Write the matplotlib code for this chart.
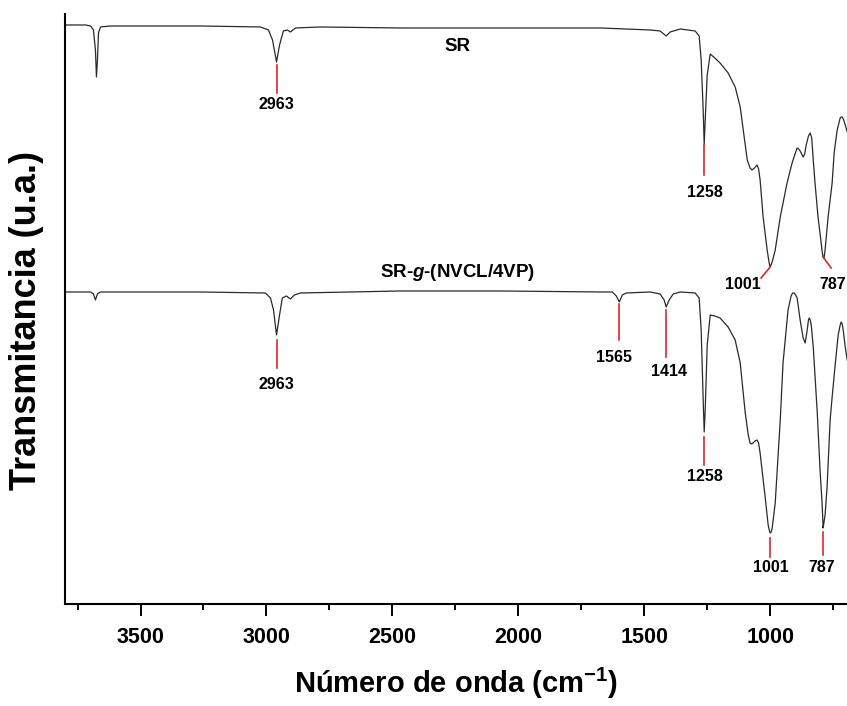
import numpy as np
import matplotlib
matplotlib.use('Agg')
import matplotlib.pyplot as plt
from matplotlib.ticker import MultipleLocator

plt.rcParams['font.family'] = ['Liberation Sans', 'DejaVu Sans']
plt.rcParams['font.weight'] = 'bold'
plt.rcParams['mathtext.fontset'] = 'custom'
plt.rcParams['mathtext.rm'] = 'Liberation Sans:bold'
plt.rcParams['mathtext.bf'] = 'Liberation Sans:bold'
plt.rcParams['mathtext.it'] = 'Liberation Sans:bold:italic'

### Spectra (wavenumber in cm-1, transmittance in a.u.)
sr_wn = [3798, 3718, 3698, 3687, 3679, 3675, 3671, 3667, 3659, 3619, 3262, 3024,
         2992, 2976, 2960, 2948, 2933, 2917, 2905, 2885, 2786, 2468, 2071, 1675,
         1476, 1437, 1413, 1397, 1357, 1298, 1282, 1274, 1266, 1262, 1258, 1250,
         1238, 1220, 1199, 1167, 1139, 1119, 1107, 1091, 1080, 1072, 1062, 1052,
         1046, 1040, 1028, 1012, 1004, 1000, 992, 980, 960, 933, 913, 900, 893,
         887, 881, 869, 863, 857, 848, 841, 835, 829, 822, 810, 798, 794, 790,
         786, 782, 770, 754, 746, 734, 726, 722, 718, 714, 708, 702, 694]
sr_t = [579, 579, 578, 574, 554, 527, 544, 571, 577, 578, 578, 577,
        574, 564, 542, 559, 573, 574, 572, 576, 577, 576, 576, 576,
        574, 573, 568, 572, 575, 573, 568, 544, 494, 459, 484, 529,
        550, 546, 541, 531, 517, 497, 474, 444, 436, 434, 436, 439,
        435, 424, 387, 354, 341, 337, 342, 354, 387, 421, 441, 451, 456,
        455, 453, 447, 450, 459, 468, 471, 466, 444, 421, 387, 362, 353, 347,
        346, 354, 387, 421, 451, 474, 482, 486, 487, 487, 484, 479, 472]

graft_wn = [3798, 3698, 3687, 3679, 3671, 3659, 3262, 3004, 2984, 2972, 2960, 2948,
            2937, 2921, 2905, 2889, 2865, 2468, 2071, 1675, 1627, 1611, 1599, 1587,
            1571, 1476, 1437, 1421, 1413, 1401, 1385, 1357, 1298, 1282, 1274, 1266,
            1262, 1258, 1250, 1238, 1220, 1199, 1167, 1139, 1119, 1099, 1087, 1080,
            1074, 1068, 1060, 1052, 1046, 1040, 1020, 1008, 1003, 1000, 996, 992,
            980, 968, 960, 949, 929, 917, 911, 905, 899, 893, 881, 869, 861, 853,
            848, 845, 841, 837, 829, 813, 802, 794, 791, 790, 788, 782, 774,
            762, 754, 742, 730, 722, 718, 714, 710, 702, 694]
graft_t = [312, 312, 310, 304, 310, 312, 312, 311, 306, 294, 269, 289,
           306, 308, 305, 309, 311, 313, 313, 312, 312, 308, 302, 309,
           311, 312, 310, 304, 297, 304, 310, 312, 311, 306, 274, 204,
           172, 194, 259, 289, 288, 286, 277, 264, 241, 191, 169, 161,
           160, 161, 163, 164, 161, 151, 107, 79, 73, 71, 72, 76,
           101, 151, 184, 241, 294, 308, 311, 311, 309, 306, 284, 266, 261, 274,
           284, 286, 284, 279, 257, 191, 134, 101, 84, 76, 79, 89, 117,
           184, 207, 239, 269, 279, 282, 280, 274, 257, 244]

# peak marks: label, line start (wn, t), line end (wn, t), text position (wn, t)
sr_peaks = ['2963', '1258', '1001', '787']
sr_line_x0 = [2960, 1262, 1000, 790]
sr_line_y0 = [539, 459, 337, 347]
sr_line_x1 = [2960, 1262, 1036, 758]
sr_line_y1 = [511, 429, 326, 336]
sr_text_x = [2960, 1258, 1107, 752]
sr_text_y = [499, 411, 319, 319]

graft_peaks = ['2963', '1565', '1414', '1258', '1001', '787']
graft_line_x0 = [2960, 1599, 1413, 1262, 1000, 790]
graft_line_y0 = [264, 300, 294, 167, 66, 72]
graft_line_x1 = [2960, 1599, 1413, 1262, 1000, 790]
graft_line_y1 = [236, 264, 247, 139, 47, 49]
graft_text_x = [2960, 1619, 1401, 1258, 996, 794]
graft_text_y = [219, 246, 232, 127, 36, 36]

red = '#e3242b'

fig = plt.figure(figsize=(8.47, 7.06), dpi=100)
ax = fig.add_axes([0.0767, 0.1445, 0.9233, 0.8357])

ax.plot(sr_wn, sr_t, color='#2a2a2a', lw=0.9)
ax.plot(graft_wn, graft_t, color='#2a2a2a', lw=0.9)

for i in range(len(sr_peaks)):
    ax.plot([sr_line_x0[i], sr_line_x1[i]], [sr_line_y0[i], sr_line_y1[i]], color=red, lw=1.2)
    ax.text(sr_text_x[i], sr_text_y[i], sr_peaks[i], ha='center', va='center', fontsize=11.5, fontweight='bold')
for i in range(len(graft_peaks)):
    ax.plot([graft_line_x0[i], graft_line_x1[i]], [graft_line_y0[i], graft_line_y1[i]], color=red, lw=1.2)
    ax.text(graft_text_x[i], graft_text_y[i], graft_peaks[i], ha='center', va='center', fontsize=11.5, fontweight='bold')

ax.text(2242, 557, 'SR', ha='center', va='center', fontsize=13.5, fontweight='bold')
ax.text(2242, 331, r'SR-$g$-(NVCL/4VP)', ha='center', va='center', fontsize=13.5, fontweight='bold')

ax.set_xlim(3800, 695)
ax.set_ylim(0, 590)
ax.xaxis.set_major_locator(MultipleLocator(500))
ax.xaxis.set_minor_locator(MultipleLocator(250))
ax.tick_params(axis='x', which='major', length=8.5, width=1.4, labelsize=15.5, pad=8)
ax.tick_params(axis='x', which='minor', length=4.5, width=1.4)
ax.set_yticks([])
for s in ['top', 'right']:
    ax.spines[s].set_visible(False)
for s in ['left', 'bottom']:
    ax.spines[s].set_linewidth(1.5)

ax.set_xlabel(r'Número de onda (cm$^{-1}$)', fontsize=21, fontweight='bold', labelpad=13)
ax.set_ylabel('Transmitancia (u.a.)', fontsize=26, fontweight='bold')
ax.yaxis.set_label_coords(-0.027, 0.48)

plt.savefig('out.png', dpi=100)
